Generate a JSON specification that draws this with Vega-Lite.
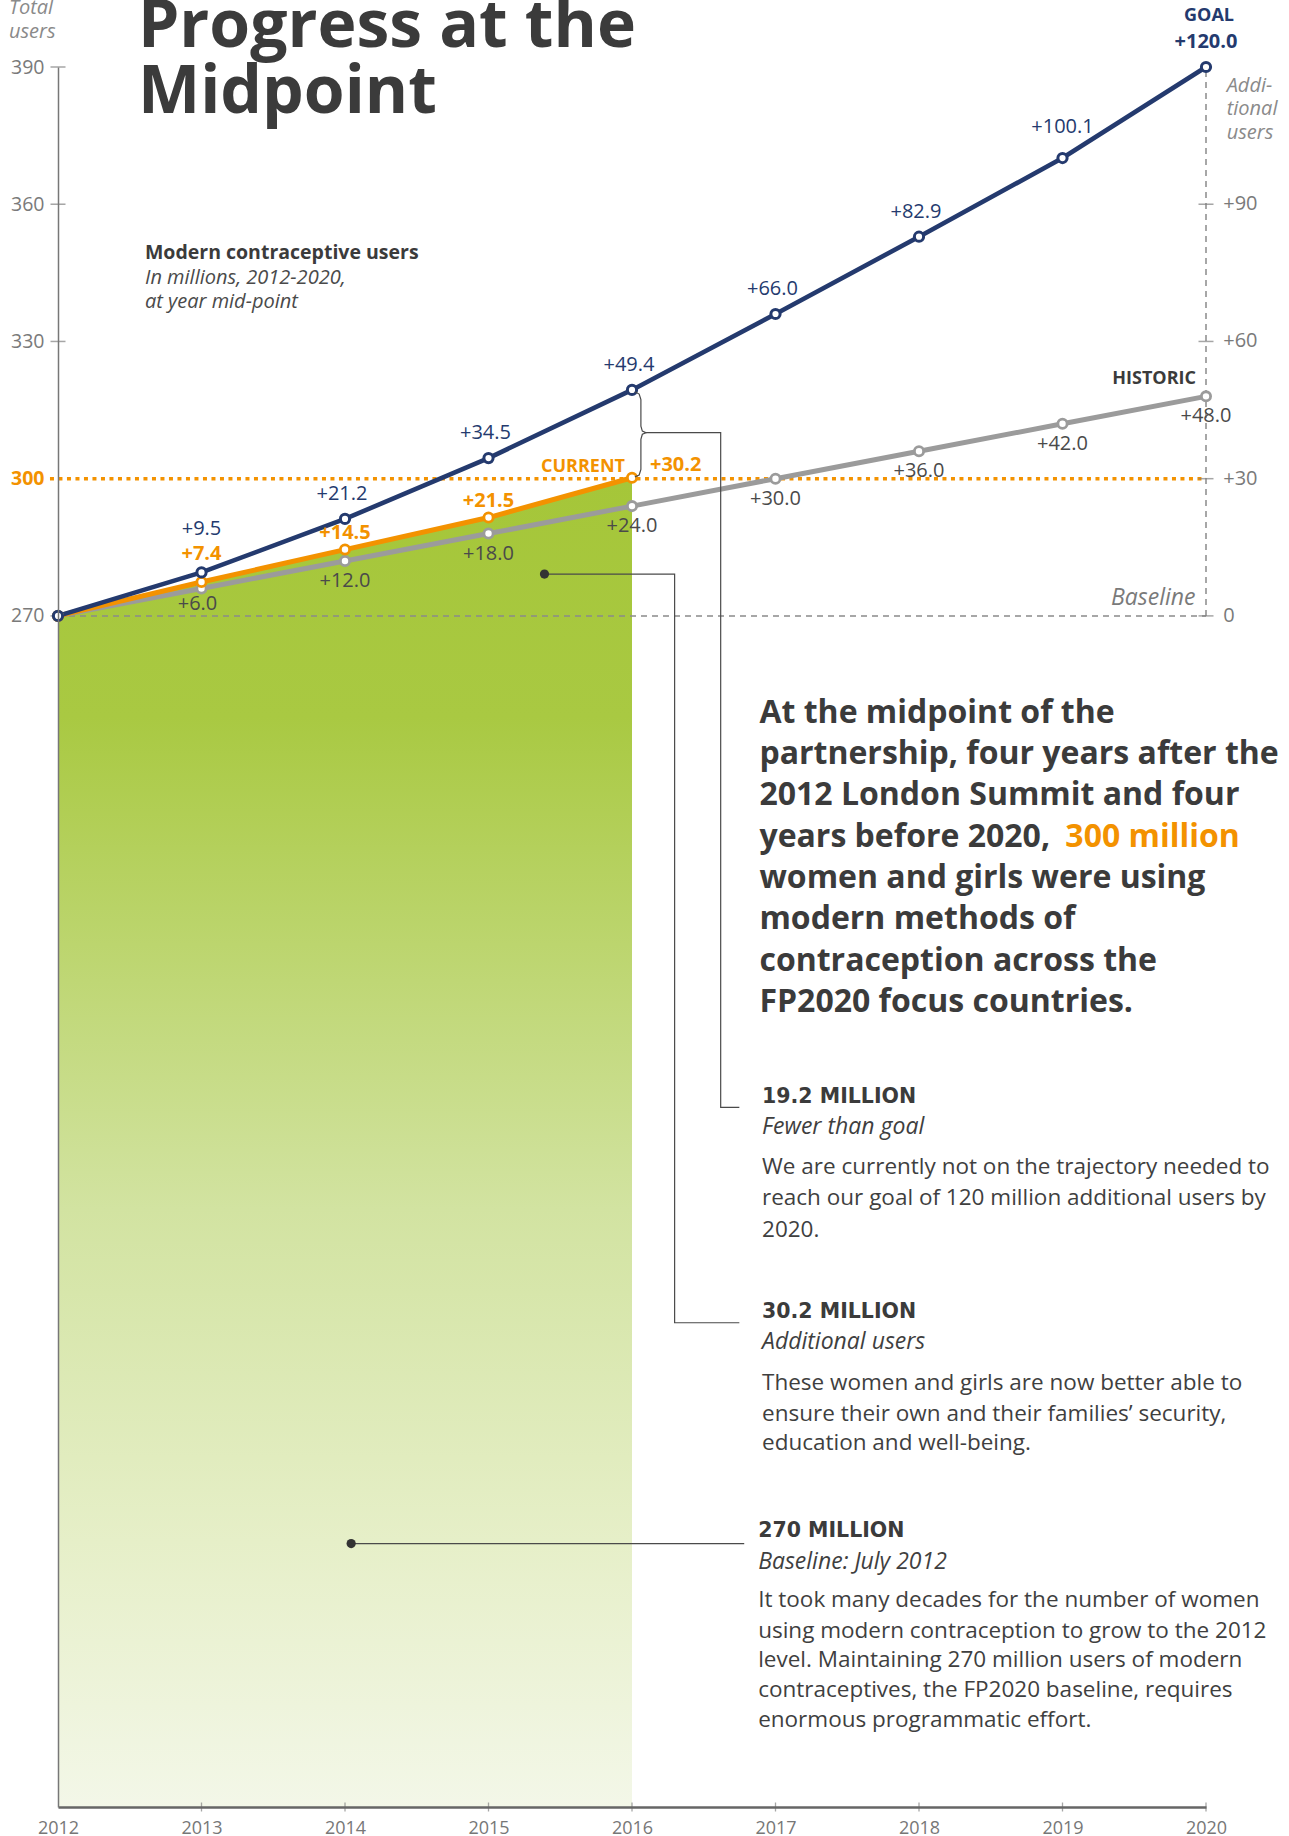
{
  "$schema": "https://vega.github.io/schema/vega-lite/v6.json",
  "width": 1148,
  "height": 1740,
  "autosize": {"type": "none"},
  "padding": {"left": 58, "top": 67, "right": 83, "bottom": 29},
  "background": "white",
  "config": {"font": "Open Sans", "view": {"stroke": null}},
  "datasets": {
    "series": [
      {"series": "goal", "x": 2012, "y": 270.0, "added": 0.0},
      {"series": "goal", "x": 2013, "y": 279.5, "added": 9.5},
      {"series": "goal", "x": 2014, "y": 291.2, "added": 21.2},
      {"series": "goal", "x": 2015, "y": 304.5, "added": 34.5},
      {"series": "goal", "x": 2016, "y": 319.4, "added": 49.4},
      {"series": "goal", "x": 2017, "y": 336.0, "added": 66.0},
      {"series": "goal", "x": 2018, "y": 352.9, "added": 82.9},
      {"series": "goal", "x": 2019, "y": 370.1, "added": 100.1},
      {"series": "goal", "x": 2020, "y": 390.0, "added": 120.0},
      {"series": "current", "x": 2012, "y": 270.0, "added": 0.0},
      {"series": "current", "x": 2013, "y": 277.4, "added": 7.4},
      {"series": "current", "x": 2014, "y": 284.5, "added": 14.5},
      {"series": "current", "x": 2015, "y": 291.5, "added": 21.5},
      {"series": "current", "x": 2016, "y": 300.2, "added": 30.2},
      {"series": "historic", "x": 2012, "y": 270.0, "added": 0.0},
      {"series": "historic", "x": 2013, "y": 276.0, "added": 6.0},
      {"series": "historic", "x": 2014, "y": 282.0, "added": 12.0},
      {"series": "historic", "x": 2015, "y": 288.0, "added": 18.0},
      {"series": "historic", "x": 2016, "y": 294.0, "added": 24.0},
      {"series": "historic", "x": 2017, "y": 300.0, "added": 30.0},
      {"series": "historic", "x": 2018, "y": 306.0, "added": 36.0},
      {"series": "historic", "x": 2019, "y": 312.0, "added": 42.0},
      {"series": "historic", "x": 2020, "y": 318.0, "added": 48.0}
    ],
    "guides": [
      {"kind": "baseline", "x": 2012, "x2": 2020, "y": 270, "y2": 270},
      {"kind": "goalAxis", "x": 2020, "x2": 2020, "y": 270, "y2": 390},
      {"kind": "target", "x": 2011.944, "x2": 2020, "y": 300, "y2": 300}
    ],
    "ticks": [
      {"side": "left", "x": 2012, "y": 270},
      {"side": "left", "x": 2012, "y": 330},
      {"side": "left", "x": 2012, "y": 360},
      {"side": "left", "x": 2012, "y": 390},
      {"side": "right", "x": 2020, "y": 270},
      {"side": "right", "x": 2020, "y": 300},
      {"side": "right", "x": 2020, "y": 330},
      {"side": "right", "x": 2020, "y": 360},
      {"side": "bottom", "x": 2013, "y": 9.6},
      {"side": "bottom", "x": 2014, "y": 9.6},
      {"side": "bottom", "x": 2015, "y": 9.6},
      {"side": "bottom", "x": 2016, "y": 9.6},
      {"side": "bottom", "x": 2017, "y": 9.6},
      {"side": "bottom", "x": 2018, "y": 9.6},
      {"side": "bottom", "x": 2019, "y": 9.6},
      {"side": "bottom", "x": 2020, "y": 9.6}
    ],
    "leaders": [
      {"path": "brace", "order": 1, "x": 2016.02, "y": 319.0},
      {"path": "brace", "order": 2, "x": 2016.05, "y": 318.5},
      {"path": "brace", "order": 3, "x": 2016.062, "y": 317.3},
      {"path": "brace", "order": 4, "x": 2016.062, "y": 311.5},
      {"path": "brace", "order": 5, "x": 2016.072, "y": 310.4},
      {"path": "brace", "order": 6, "x": 2016.098, "y": 310.05},
      {"path": "brace", "order": 7, "x": 2016.072, "y": 309.7},
      {"path": "brace", "order": 8, "x": 2016.062, "y": 308.6},
      {"path": "brace", "order": 9, "x": 2016.062, "y": 302.0},
      {"path": "brace", "order": 10, "x": 2016.05, "y": 300.8},
      {"path": "brace", "order": 11, "x": 2016.02, "y": 300.4},
      {"path": "gap", "order": 1, "x": 2016.098, "y": 310.05},
      {"path": "gap", "order": 2, "x": 2016.618, "y": 310.05},
      {"path": "gap", "order": 3, "x": 2016.618, "y": 162.56},
      {"path": "gap", "order": 4, "x": 2016.748, "y": 162.56},
      {"path": "added", "order": 1, "x": 2015.39, "y": 279.15},
      {"path": "added", "order": 2, "x": 2016.297, "y": 279.15},
      {"path": "added", "order": 3, "x": 2016.297, "y": 115.47},
      {"path": "added", "order": 4, "x": 2016.748, "y": 115.47},
      {"path": "base", "order": 1, "x": 2014.043, "y": 67.2},
      {"path": "base", "order": 2, "x": 2016.782, "y": 67.2}
    ],
    "dots": [
      {"x": 2015.39, "y": 279.15},
      {"x": 2014.043, "y": 67.2}
    ],
    "notes": [
      {"kind": "title", "x": 2012.557, "y": 394.44, "text": "Progress at the"},
      {"kind": "title", "x": 2012.557, "y": 379.88, "text": "Midpoint"},
      {"kind": "axisNote", "x": 2011.658, "y": 402.83, "text": "Total"},
      {"kind": "axisNote", "x": 2011.658, "y": 397.59, "text": "users"},
      {"kind": "axisNote", "x": 2020.144, "y": 385.85, "text": "Addi-"},
      {"kind": "axisNote", "x": 2020.144, "y": 380.75, "text": "tional"},
      {"kind": "axisNote", "x": 2020.144, "y": 375.64, "text": "users"},
      {"kind": "baselineNote", "x": 2019.927, "y": 273.84, "text": "Baseline"},
      {"kind": "rightLabel", "x": 2020.12, "y": 360, "text": "+90"},
      {"kind": "rightLabel", "x": 2020.12, "y": 330, "text": "+60"},
      {"kind": "rightLabel", "x": 2020.12, "y": 300, "text": "+30"},
      {"kind": "rightLabel", "x": 2020.12, "y": 270, "text": "0"},
      {"kind": "chartHead", "x": 2012.606, "y": 349.27, "text": "Modern contraceptive users"},
      {"kind": "chartSub", "x": 2012.606, "y": 343.8, "text": "In millions, 2012-2020,"},
      {"kind": "chartSub", "x": 2012.606, "y": 338.69, "text": "at year mid-point"},
      {"kind": "goalTag", "x": 2020.021, "y": 401.15, "text": "GOAL"},
      {"kind": "historicTag", "x": 2019.93, "y": 321.72, "text": "HISTORIC"},
      {"kind": "currentTag", "x": 2015.951, "y": 302.62, "text": "CURRENT"},
      {"kind": "lead", "x": 2016.888, "y": 248.83, "text": "At the midpoint of the"},
      {"kind": "lead", "x": 2016.888, "y": 239.8, "text": "partnership, four years after the"},
      {"kind": "lead", "x": 2016.888, "y": 230.77, "text": "2012 London Summit and four"},
      {"kind": "lead", "x": 2016.888, "y": 221.74, "text": "years before 2020,"},
      {"kind": "leadAccent", "x": 2019.02, "y": 221.74, "text": "300 million"},
      {"kind": "lead", "x": 2016.888, "y": 212.71, "text": "women and girls were using"},
      {"kind": "lead", "x": 2016.888, "y": 203.68, "text": "modern methods of"},
      {"kind": "lead", "x": 2016.888, "y": 194.65, "text": "contraception across the"},
      {"kind": "lead", "x": 2016.888, "y": 185.62, "text": "FP2020 focus countries."},
      {"kind": "head", "x": 2016.906, "y": 164.88, "text": "19.2 MILLION"},
      {"kind": "sub", "x": 2016.906, "y": 158.19, "text": "Fewer than goal"},
      {"kind": "body", "x": 2016.906, "y": 149.44, "text": "We are currently not on the trajectory needed to"},
      {"kind": "body", "x": 2016.906, "y": 142.67, "text": "reach our goal of 120 million additional users by"},
      {"kind": "body", "x": 2016.906, "y": 135.74, "text": "2020."},
      {"kind": "head", "x": 2016.906, "y": 117.74, "text": "30.2 MILLION"},
      {"kind": "sub", "x": 2016.906, "y": 111.32, "text": "Additional users"},
      {"kind": "body", "x": 2016.906, "y": 102.22, "text": "These women and girls are now better able to"},
      {"kind": "body", "x": 2016.906, "y": 95.51, "text": "ensure their own and their families’ security,"},
      {"kind": "body", "x": 2016.906, "y": 89.1, "text": "education and well-being."},
      {"kind": "head", "x": 2016.879, "y": 69.93, "text": "270 MILLION"},
      {"kind": "sub", "x": 2016.879, "y": 63.22, "text": "Baseline: July 2012"},
      {"kind": "body", "x": 2016.879, "y": 54.84, "text": "It took many decades for the number of women"},
      {"kind": "body", "x": 2016.879, "y": 48.07, "text": "using modern contraception to grow to the 2012"},
      {"kind": "body", "x": 2016.879, "y": 41.73, "text": "level. Maintaining 270 million users of modern"},
      {"kind": "body", "x": 2016.879, "y": 35.17, "text": "contraceptives, the FP2020 baseline, requires"},
      {"kind": "body", "x": 2016.879, "y": 28.61, "text": "enormous programmatic effort."}
    ]
  },
  "encoding": {
    "x": {
      "field": "x",
      "type": "quantitative",
      "scale": {"domain": [2012, 2020], "nice": false, "zero": false},
      "axis": {
        "title": null,
        "values": [2012, 2013, 2014, 2015, 2016, 2017, 2018, 2019, 2020],
        "format": "d",
        "grid": false,
        "ticks": false,
        "tickSize": 0,
        "domainColor": "#666666",
        "domainWidth": 2.5,
        "labelFont": "Open Sans",
        "labelFontSize": 18,
        "labelColor": "#777777",
        "labelPadding": 12,
        "labelFlush": false,
        "labelOverlap": false,
        "labelBound": false,
        "zindex": 1
      }
    },
    "y": {
      "field": "y",
      "type": "quantitative",
      "scale": {"domain": [9.6, 390], "nice": false, "zero": false},
      "axis": {
        "title": null,
        "values": [270, 300, 330, 360, 390],
        "grid": false,
        "ticks": false,
        "tickSize": 0,
        "domainColor": "#777777",
        "domainWidth": 1.5,
        "labelFont": "Open Sans",
        "labelFontSize": 19.5,
        "labelColor": {"condition": {"test": "datum.value === 300", "value": "#f39200"}, "value": "#7a7a7a"},
        "labelFontWeight": {"condition": {"test": "datum.value === 300", "value": "bold"}, "value": "normal"},
        "labelPadding": 14,
        "labelFlush": false,
        "labelOverlap": false,
        "labelBound": false,
        "zindex": 1
      }
    }
  },
  "layer": [
    {
      "data": {"name": "series"},
      "transform": [{"filter": "datum.series === 'current'"}],
      "mark": {
        "type": "area",
        "color": {
          "gradient": "linear",
          "x1": 0, "y1": 0, "x2": 0, "y2": 1,
          "stops": [
            {"offset": 0, "color": "#a5c639"},
            {"offset": 0.18, "color": "#a9c942"},
            {"offset": 0.55, "color": "#d2e3a1"},
            {"offset": 0.8, "color": "#e6efc8"},
            {"offset": 1, "color": "#f3f7e8"}
          ]
        }
      },
      "encoding": {"y2": {"datum": 9.6}}
    },
    {
      "data": {"name": "guides"},
      "transform": [{"filter": "datum.kind !== 'target'"}],
      "mark": {"type": "rule", "color": "#8a8a8a", "strokeWidth": 1.5, "strokeDash": [6, 5]},
      "encoding": {"x2": {"field": "x2"}, "y2": {"field": "y2"}}
    },
    {
      "data": {"name": "guides"},
      "transform": [{"filter": "datum.kind === 'target'"}],
      "mark": {"type": "rule", "color": "#f39200", "strokeWidth": 3.5, "strokeDash": [4, 4.5]},
      "encoding": {"x2": {"field": "x2"}, "y2": {"field": "y2"}}
    },
    {
      "data": {"name": "ticks"},
      "transform": [{"filter": "datum.side !== 'bottom'"}],
      "mark": {"type": "tick", "orient": "horizontal", "size": 15, "thickness": 1.5, "color": "#808080"}
    },
    {
      "data": {"name": "ticks"},
      "transform": [{"filter": "datum.side === 'bottom'"}],
      "mark": {"type": "tick", "orient": "vertical", "size": 9, "thickness": 1.3, "color": "#808080"}
    },
    {
      "data": {"name": "series"},
      "transform": [{"filter": "datum.series === 'historic'"}],
      "mark": {"type": "line", "color": "#9b9b9b", "strokeWidth": 5}
    },
    {
      "data": {"name": "series"},
      "transform": [{"filter": "datum.series === 'current'"}],
      "mark": {"type": "line", "color": "#f39200", "strokeWidth": 5}
    },
    {
      "data": {"name": "series"},
      "transform": [{"filter": "datum.series === 'goal'"}],
      "mark": {"type": "line", "color": "#243a6e", "strokeWidth": 4.6}
    },
    {
      "data": {"name": "series"},
      "transform": [{"filter": "datum.series === 'historic'"}],
      "mark": {"type": "point", "shape": "circle", "filled": true, "fill": "white", "stroke": "#9b9b9b", "strokeWidth": 2.8, "size": 85, "opacity": 1}
    },
    {
      "data": {"name": "series"},
      "transform": [{"filter": "datum.series === 'current'"}],
      "mark": {"type": "point", "shape": "circle", "filled": true, "fill": "white", "stroke": "#f39200", "strokeWidth": 2.8, "size": 85, "opacity": 1}
    },
    {
      "data": {"name": "series"},
      "transform": [{"filter": "datum.series === 'goal'"}],
      "mark": {"type": "point", "shape": "circle", "filled": true, "fill": "white", "stroke": "#243a6e", "strokeWidth": 3, "size": 85, "opacity": 1}
    },
    {
      "data": {"name": "series"},
      "transform": [{"filter": "datum.series === 'goal' && datum.x >= 2014 && datum.x <= 2018"}],
      "mark": {"type": "text", "fontSize": 20, "color": "#243a6e", "dy": -25, "dx": -3, "align": "center", "baseline": "middle"},
      "encoding": {"text": {"field": "added", "type": "quantitative", "format": "+.1f"}}
    },
    {
      "data": {"name": "series"},
      "transform": [{"filter": "datum.series === 'goal' && datum.x === 2013"}],
      "mark": {"type": "text", "fontSize": 20, "color": "#243a6e", "dy": -43, "align": "center", "baseline": "middle"},
      "encoding": {"text": {"field": "added", "type": "quantitative", "format": "+.1f"}}
    },
    {
      "data": {"name": "series"},
      "transform": [{"filter": "datum.series === 'goal' && datum.x === 2019"}],
      "mark": {"type": "text", "fontSize": 20, "color": "#243a6e", "dy": -31, "align": "center", "baseline": "middle"},
      "encoding": {"text": {"field": "added", "type": "quantitative", "format": "+.1f"}}
    },
    {
      "data": {"name": "series"},
      "transform": [{"filter": "datum.series === 'goal' && datum.x === 2020"}],
      "mark": {"type": "text", "fontSize": 20, "fontWeight": "bold", "color": "#243a6e", "dy": -25, "align": "center", "baseline": "middle"},
      "encoding": {"text": {"field": "added", "type": "quantitative", "format": "+.1f"}}
    },
    {
      "data": {"name": "series"},
      "transform": [{"filter": "datum.series === 'current' && (datum.x === 2014 || datum.x === 2015)"}],
      "mark": {"type": "text", "fontSize": 20, "fontWeight": "bold", "color": "#f39200", "dy": -17, "align": "center", "baseline": "middle"},
      "encoding": {"text": {"field": "added", "type": "quantitative", "format": "+.1f"}}
    },
    {
      "data": {"name": "series"},
      "transform": [{"filter": "datum.series === 'current' && datum.x === 2013"}],
      "mark": {"type": "text", "fontSize": 20, "fontWeight": "bold", "color": "#f39200", "dy": -28, "align": "center", "baseline": "middle"},
      "encoding": {"text": {"field": "added", "type": "quantitative", "format": "+.1f"}}
    },
    {
      "data": {"name": "series"},
      "transform": [{"filter": "datum.series === 'current' && datum.x === 2016"}],
      "mark": {"type": "text", "fontSize": 20, "fontWeight": "bold", "color": "#f39200", "dy": -13, "dx": 18, "align": "left", "baseline": "middle"},
      "encoding": {"text": {"field": "added", "type": "quantitative", "format": "+.1f"}}
    },
    {
      "data": {"name": "series"},
      "transform": [{"filter": "datum.series === 'historic' && datum.x >= 2014"}],
      "mark": {"type": "text", "fontSize": 20, "color": "#4a4a4a", "dy": 20, "align": "center", "baseline": "middle"},
      "encoding": {"text": {"field": "added", "type": "quantitative", "format": "+.1f"}}
    },
    {
      "data": {"name": "series"},
      "transform": [{"filter": "datum.series === 'historic' && datum.x === 2013"}],
      "mark": {"type": "text", "fontSize": 20, "color": "#4a4a4a", "dy": 16, "dx": -4, "align": "center", "baseline": "middle"},
      "encoding": {"text": {"field": "added", "type": "quantitative", "format": "+.1f"}}
    },
    {
      "data": {"name": "leaders"},
      "mark": {"type": "line", "color": "#4a4a4a", "strokeWidth": 1.2},
      "encoding": {"detail": {"field": "path"}, "order": {"field": "order", "type": "quantitative"}}
    },
    {
      "data": {"name": "dots"},
      "mark": {"type": "point", "shape": "circle", "filled": true, "color": "#333333", "size": 85, "opacity": 1}
    },
    {
      "data": {"name": "notes"},
      "transform": [{"filter": "datum.kind === 'title'"}],
      "mark": {"type": "text", "fontSize": 66, "fontWeight": "bold", "color": "#3b3b3b", "align": "left", "baseline": "alphabetic"},
      "encoding": {"text": {"field": "text"}}
    },
    {
      "data": {"name": "notes"},
      "transform": [{"filter": "datum.kind === 'axisNote'"}],
      "mark": {"type": "text", "fontSize": 20, "fontStyle": "italic", "color": "#8a8a8a", "align": "left", "baseline": "middle"},
      "encoding": {"text": {"field": "text"}}
    },
    {
      "data": {"name": "notes"},
      "transform": [{"filter": "datum.kind === 'baselineNote'"}],
      "mark": {"type": "text", "fontSize": 23, "fontStyle": "italic", "color": "#7a7a7a", "align": "right", "baseline": "middle"},
      "encoding": {"text": {"field": "text"}}
    },
    {
      "data": {"name": "notes"},
      "transform": [{"filter": "datum.kind === 'rightLabel'"}],
      "mark": {"type": "text", "fontSize": 20, "color": "#7a7a7a", "align": "left", "baseline": "middle"},
      "encoding": {"text": {"field": "text"}}
    },
    {
      "data": {"name": "notes"},
      "transform": [{"filter": "datum.kind === 'chartHead'"}],
      "mark": {"type": "text", "fontSize": 19.5, "fontWeight": "bold", "color": "#3b3b3b", "align": "left", "baseline": "middle"},
      "encoding": {"text": {"field": "text"}}
    },
    {
      "data": {"name": "notes"},
      "transform": [{"filter": "datum.kind === 'chartSub'"}],
      "mark": {"type": "text", "fontSize": 20, "fontStyle": "italic", "color": "#4a4a4a", "align": "left", "baseline": "middle"},
      "encoding": {"text": {"field": "text"}}
    },
    {
      "data": {"name": "notes"},
      "transform": [{"filter": "datum.kind === 'goalTag'"}],
      "mark": {"type": "text", "fontSize": 18, "fontWeight": "bold", "color": "#243a6e", "align": "center", "baseline": "middle"},
      "encoding": {"text": {"field": "text"}}
    },
    {
      "data": {"name": "notes"},
      "transform": [{"filter": "datum.kind === 'historicTag'"}],
      "mark": {"type": "text", "fontSize": 18, "fontWeight": "bold", "color": "#3b3b3b", "align": "right", "baseline": "middle"},
      "encoding": {"text": {"field": "text"}}
    },
    {
      "data": {"name": "notes"},
      "transform": [{"filter": "datum.kind === 'currentTag'"}],
      "mark": {"type": "text", "fontSize": 18, "fontWeight": "bold", "color": "#f39200", "align": "right", "baseline": "middle"},
      "encoding": {"text": {"field": "text"}}
    },
    {
      "data": {"name": "notes"},
      "transform": [{"filter": "datum.kind === 'lead'"}],
      "mark": {"type": "text", "fontSize": 32, "fontWeight": "bold", "color": "#3b3b3b", "align": "left", "baseline": "middle"},
      "encoding": {"text": {"field": "text"}}
    },
    {
      "data": {"name": "notes"},
      "transform": [{"filter": "datum.kind === 'leadAccent'"}],
      "mark": {"type": "text", "fontSize": 32, "fontWeight": "bold", "color": "#f39200", "align": "left", "baseline": "middle"},
      "encoding": {"text": {"field": "text"}}
    },
    {
      "data": {"name": "notes"},
      "transform": [{"filter": "datum.kind === 'head'"}],
      "mark": {"type": "text", "font": "DejaVu Sans", "fontSize": 20.5, "fontWeight": "bold", "color": "#3b3b3b", "align": "left", "baseline": "middle"},
      "encoding": {"text": {"field": "text"}}
    },
    {
      "data": {"name": "notes"},
      "transform": [{"filter": "datum.kind === 'sub'"}],
      "mark": {"type": "text", "fontSize": 23, "fontStyle": "italic", "color": "#3f3f3f", "align": "left", "baseline": "middle"},
      "encoding": {"text": {"field": "text"}}
    },
    {
      "data": {"name": "notes"},
      "transform": [{"filter": "datum.kind === 'body'"}],
      "mark": {"type": "text", "fontSize": 22.5, "color": "#3f3f3f", "align": "left", "baseline": "middle"},
      "encoding": {"text": {"field": "text"}}
    }
  ]
}
